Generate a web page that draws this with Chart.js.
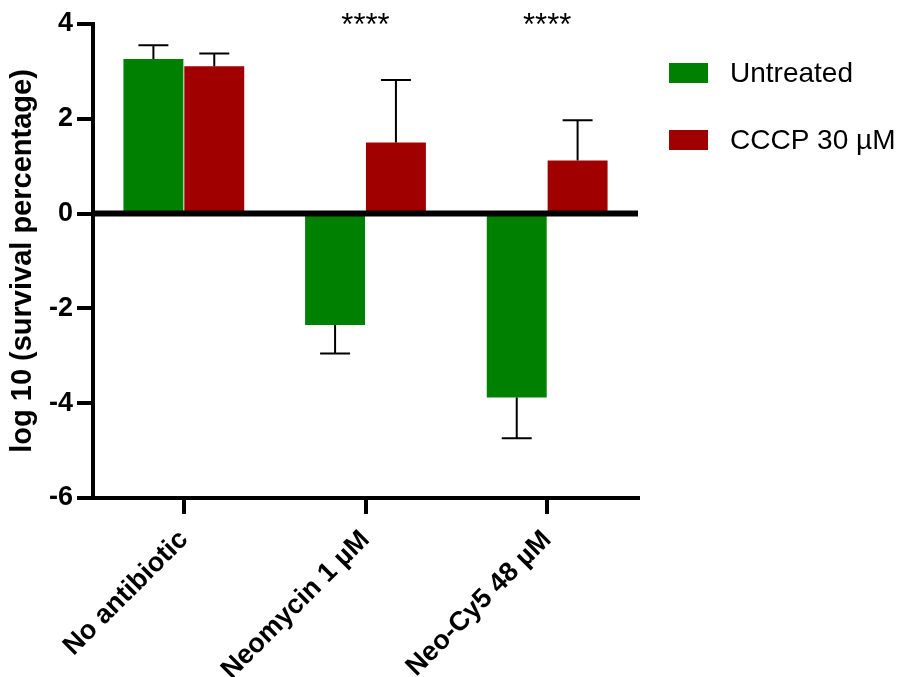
<!DOCTYPE html>
<html>
<head>
<meta charset="utf-8">
<title>log 10 survival</title>
<script src="https://cdn.jsdelivr.net/npm/chart.js@4/dist/chart.umd.min.js"></script>
<style>
  html, body { margin: 0; padding: 0; background: #fff; }
  #wrap { width: 905px; height: 677px; }
</style>
</head>
<body>
<div id="wrap"><canvas id="chart" width="905" height="677"></canvas></div>
<script>
const categories = ["No antibiotic", "Neomycin 1 µM", "Neo-Cy5 48 µM"];
const untreated = [3.26, -2.35, -3.88];
const untreatedSD = [0.29, 0.60, 0.86];
const cccp = [3.11, 1.50, 1.12];
const cccpSD = [0.27, 1.32, 0.85];
const significance = ["", "****", "****"];
const yTicks = [-6, -4, -2, 0, 2, 4];

const FONT = '"Liberation Sans", Arial, sans-serif';
const GREEN = "rgb(0, 128, 0)";
const RED = "rgb(160, 0, 0)";

// error bars go away from zero, like Prism draws them
const errorBars = {
  id: "errorBars",
  afterDatasetsDraw(chart) {
    const ctx = chart.ctx;
    const y = chart.scales.y;
    const sds = [untreatedSD, cccpSD];
    ctx.save();
    ctx.strokeStyle = "#000";
    ctx.lineWidth = 2;
    chart.data.datasets.forEach((ds, i) => {
      const meta = chart.getDatasetMeta(i);
      meta.data.forEach((bar, j) => {
        const v = ds.data[j];
        const end = v + Math.sign(v) * sds[i][j];
        const yEnd = y.getPixelForValue(end);
        const half = bar.width / 4;
        ctx.beginPath();
        ctx.moveTo(bar.x, bar.y);
        ctx.lineTo(bar.x, yEnd);
        ctx.moveTo(bar.x - half, yEnd);
        ctx.lineTo(bar.x + half, yEnd);
        ctx.stroke();
      });
    });

    // thick zero line
    const y0 = y.getPixelForValue(0);
    ctx.lineWidth = 6;
    ctx.beginPath();
    ctx.moveTo(chart.chartArea.left, y0);
    ctx.lineTo(chart.chartArea.right, y0);
    ctx.stroke();
    ctx.restore();
  },
  afterDraw(chart) {
    const ctx = chart.ctx;
    const x = chart.scales.x;
    ctx.save();
    // significance stars
    ctx.fillStyle = "#000";
    ctx.font = "31px " + FONT;
    ctx.textAlign = "center";
    ctx.textBaseline = "alphabetic";
    significance.forEach((s, j) => {
      if (s) ctx.fillText(s, x.getPixelForValue(j), 35);
    });

    // legend
    ctx.font = "28px " + FONT;
    ctx.textAlign = "left";
    ctx.textBaseline = "middle";
    chart.data.datasets.forEach((ds, i) => {
      const cy = 73 + i * 67;
      ctx.fillStyle = ds.backgroundColor;
      ctx.fillRect(669, cy - 10, 39, 20);
      ctx.fillStyle = "#000";
      ctx.fillText(ds.label, 730, cy + 1);
    });
    ctx.restore();
  }
};

new Chart(document.getElementById("chart"), {
  type: "bar",
  data: {
    labels: categories,
    datasets: [
      {
        label: "Untreated",
        data: untreated,
        backgroundColor: GREEN,
        categoryPercentage: 0.67,
        barPercentage: 0.985,
      },
      {
        label: "CCCP 30 µM",
        data: cccp,
        backgroundColor: RED,
        categoryPercentage: 0.67,
        barPercentage: 0.985,
      },
    ],
  },
  options: {
    responsive: false,
    animation: false,
    layout: { padding: { top: 24, right: 267, left: 0, bottom: 0 } },
    plugins: {
      legend: { display: false },
      tooltip: { enabled: false },
    },
    scales: {
      x: {
        offset: true,
        afterFit: (s) => { s.height = 179; },
        grid: {
          offset: false,
          drawOnChartArea: false,
          drawTicks: true,
          tickLength: 16,
          color: "#000",
          lineWidth: 4,
        },
        border: { color: "#000", width: 4 },
        ticks: {
          color: "#000",
          font: { family: FONT, size: 27, weight: "bold" },
          minRotation: 45,
          maxRotation: 45,
          padding: 10,
        },
      },
      y: {
        min: -6,
        max: 4,
        afterFit: (s) => { s.width = 93; },
        afterBuildTicks: (s) => { s.ticks = yTicks.map((v) => ({ value: v })); },
        grid: {
          drawOnChartArea: false,
          drawTicks: true,
          tickLength: 16,
          color: "#000",
          lineWidth: 4,
        },
        border: { color: "#000", width: 4 },
        ticks: {
          color: "#000",
          font: { family: FONT, size: 27, weight: "bold" },
          padding: 4,
        },
        title: {
          display: true,
          text: "log 10 (survival percentage)",
          color: "#000",
          font: { family: FONT, size: 29, weight: "bold" },
          padding: { top: 6, bottom: 0 },
        },
      },
    },
  },
  plugins: [errorBars],
});
</script>
</body>
</html>
